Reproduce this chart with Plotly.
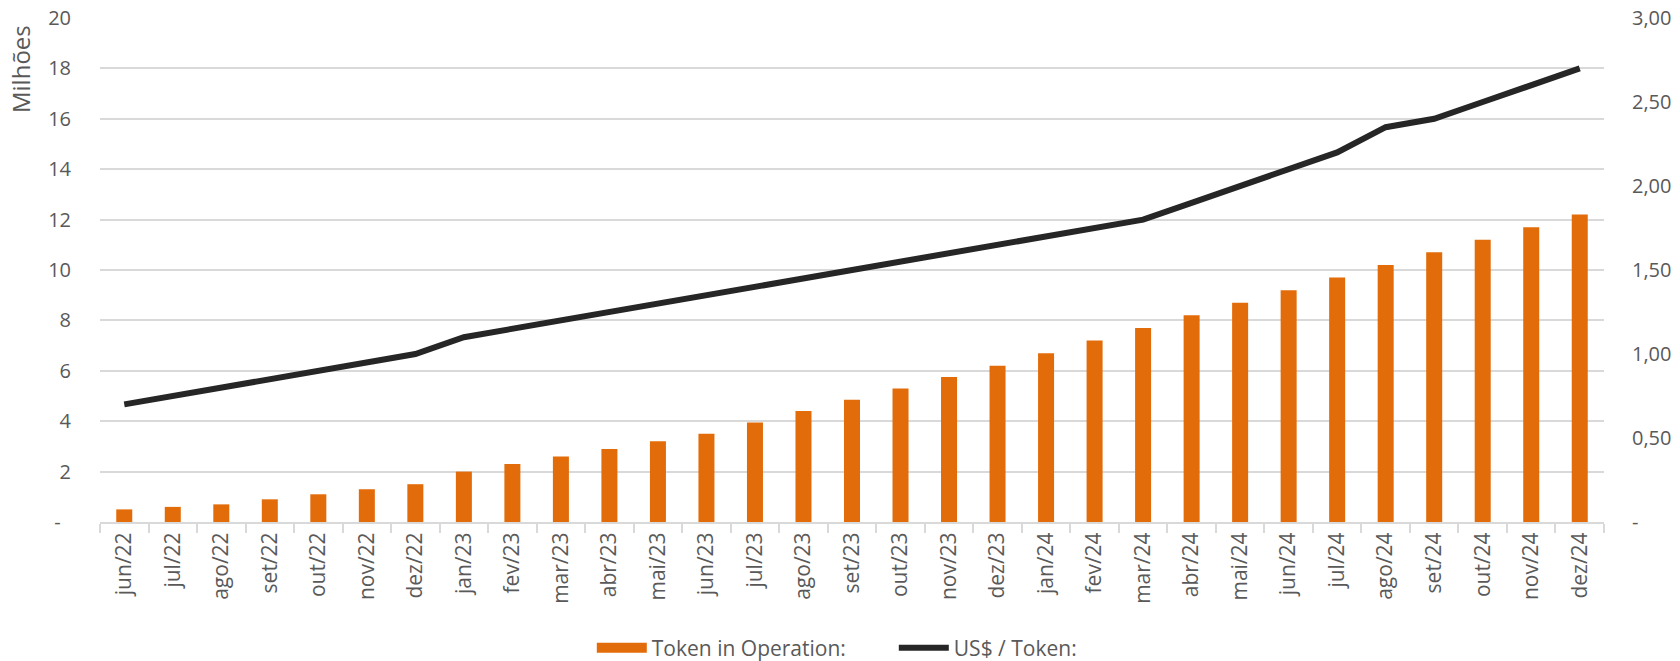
import plotly.graph_objects as go

months = ["jun/22", "jul/22", "ago/22", "set/22", "out/22", "nov/22", "dez/22",
          "jan/23", "fev/23", "mar/23", "abr/23", "mai/23", "jun/23", "jul/23",
          "ago/23", "set/23", "out/23", "nov/23", "dez/23",
          "jan/24", "fev/24", "mar/24", "abr/24", "mai/24", "jun/24", "jul/24",
          "ago/24", "set/24", "out/24", "nov/24", "dez/24"]

tokens_millions = [0.5, 0.6, 0.7, 0.9, 1.1, 1.3, 1.5,
                   2.0, 2.3, 2.6, 2.9, 3.2, 3.5, 3.95,
                   4.4, 4.85, 5.3, 5.75, 6.2,
                   6.7, 7.2, 7.7, 8.2, 8.7, 9.2, 9.7,
                   10.2, 10.7, 11.2, 11.7, 12.2]

usd_per_token = [0.70, 0.75, 0.80, 0.85, 0.90, 0.95, 1.00,
                 1.10, 1.15, 1.20, 1.25, 1.30, 1.35, 1.40,
                 1.45, 1.50, 1.55, 1.60, 1.65,
                 1.70, 1.75, 1.80, 1.90, 2.00, 2.10, 2.20,
                 2.35, 2.40, 2.50, 2.60, 2.70]

left_tick_vals = [0, 2, 4, 6, 8, 10, 12, 14, 16, 18, 20]
left_tick_text = ["-\u00a0\u00a0", "2", "4", "6", "8", "10", "12", "14", "16", "18", "20"]
right_tick_vals = [0, 0.5, 1.0, 1.5, 2.0, 2.5, 3.0]
right_tick_text = ["-", "0,50", "1,00", "1,50", "2,00", "2,50", "3,00"]

FONT = "Open Sans"
TXT = "#595959"
GRID = "#d9d9d9"
ORANGE = "#E36C0A"

fig = go.Figure()
fig.add_trace(go.Bar(
    x=months, y=tokens_millions, name="Token in Operation:",
    marker=dict(color=ORANGE, line=dict(width=0)), width=0.33,
    yaxis="y", showlegend=False, legendgroup="tok",
))
# legend proxy for the bar series (wide rectangle swatch)
fig.add_trace(go.Scatter(
    x=[months[0]], y=[None], name="Token in Operation:", mode="lines",
    line=dict(color=ORANGE, width=14), yaxis="y", legendgroup="tok",
    hoverinfo="skip",
))
fig.add_trace(go.Scatter(
    x=months, y=usd_per_token, name="US$ / Token:", mode="lines",
    line=dict(color="#262626", width=6), yaxis="y2",
))

fig.update_layout(
    width=1680, height=661,
    paper_bgcolor="white", plot_bgcolor="white",
    margin=dict(l=100, r=76, t=18, b=139, autoexpand=False),
    font=dict(family=FONT, size=20, color=TXT),
    showlegend=True,
    legend=dict(orientation="h", xref="paper", x=0.327, xanchor="left",
                yref="container", y=0.0197, yanchor="middle",
                font=dict(family=FONT, size=21, color=TXT), traceorder="normal",
                itemwidth=50, entrywidth=237, entrywidthmode="pixels"),
    xaxis=dict(
        type="category", tickangle=-90, showgrid=False,
        showline=True, linecolor=GRID, linewidth=2,
        ticks="outside", tickson="boundaries", ticklen=9, tickcolor=GRID, tickwidth=2,
        tickfont=dict(family=FONT, size=21, color=TXT), automargin=False,
    ),
    yaxis=dict(
        range=[0, 20], tickvals=left_tick_vals, ticktext=left_tick_text,
        showgrid=True, gridcolor=GRID, gridwidth=2, zeroline=False,
        showline=False, ticks="", ticklabelstandoff=28, automargin=False,
        tickfont=dict(family=FONT, size=20, color=TXT),
    ),
    yaxis2=dict(
        range=[0, 3], tickvals=right_tick_vals, ticktext=right_tick_text,
        overlaying="y", side="right", showgrid=False, zeroline=False,
        showline=False, ticks="", ticklabelstandoff=27, automargin=False,
        tickfont=dict(family=FONT, size=20, color=TXT),
    ),
    annotations=[dict(
        text="Milhões", textangle=-90, showarrow=False,
        xref="paper", yref="paper", x=-0.0532, y=0.99, xanchor="center", yanchor="top",
        font=dict(family=FONT, size=24, color=TXT),
    )],
)

fig.write_html(
    "out.html",
    config={"displayModeBar": False},
    post_script="document.body.style.margin='0';"
                "document.body.style.overflow='hidden';"
                "document.documentElement.style.overflow='hidden';",
)
